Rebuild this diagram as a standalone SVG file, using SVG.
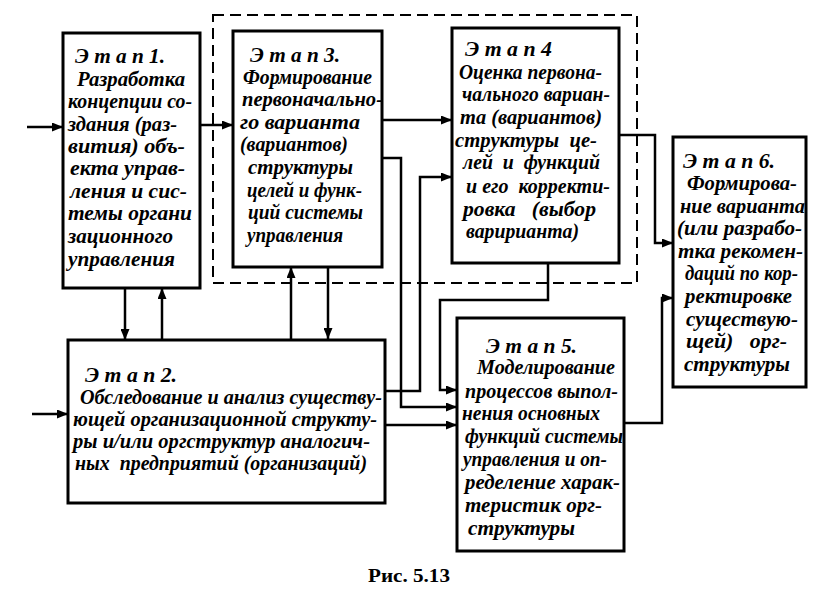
<svg xmlns="http://www.w3.org/2000/svg" width="840" height="595" viewBox="0 0 840 595">
<style>
.box{fill:#fff;stroke:#000;stroke-width:3}
.t{font-family:"Liberation Serif","Times New Roman",serif;font-size:20px;font-weight:bold;font-style:italic;fill:#000;white-space:pre}
.c{fill:none;stroke:#000;stroke-width:2.5;marker-end:url(#ah)}
.dash{fill:none;stroke:#000;stroke-width:2;stroke-dasharray:11 6}
.cap{font-family:"Liberation Serif","Times New Roman",serif;font-size:18px;font-weight:bold;fill:#000}
</style>
<defs>
<marker id="ah" markerUnits="userSpaceOnUse" markerWidth="11" markerHeight="9" refX="11" refY="4.5" orient="auto">
<path d="M0,0 L11,4.5 L0,9 z" fill="#000"/>
</marker>
</defs>
<rect width="840" height="595" fill="#fff"/>
<rect class="dash" x="213" y="15" width="424" height="268"/>
<g id="connectors">
<path class="c" d="M27,127 H63"/>
<path class="c" d="M200,125 H233"/>
<path class="c" d="M32,414 H68"/>
<path class="c" d="M125,288 V340"/>
<path class="c" d="M162,340 V288"/>
<path class="c" d="M291,339 V267"/>
<path class="c" d="M328,267 V339"/>
<path class="c" d="M382,120 H452"/>
<path class="c" d="M385,391 H420 V177 H452"/>
<path class="c" d="M382,158 H401 V407 H457"/>
<path class="c" d="M385,425 H457"/>
<path class="c" d="M548,263 V300 H440 V390 H457"/>
<path class="c" d="M619,135 H655 V243 H673"/>
<path class="c" d="M624,423 H662 V298 H673"/>
</g>
<g id="stage1">
<rect class="box" x="63" y="33" width="137" height="255"/>
<text class="t" x="75" y="63" textLength="90" lengthAdjust="spacingAndGlyphs">Э т а п 1.</text>
<text class="t" x="77" y="86" textLength="108" lengthAdjust="spacingAndGlyphs">Разработка</text>
<text class="t" x="68" y="108" textLength="124" lengthAdjust="spacingAndGlyphs">концепции со-</text>
<text class="t" x="68" y="131" textLength="109" lengthAdjust="spacingAndGlyphs">здания (раз-</text>
<text class="t" x="68" y="153" textLength="117" lengthAdjust="spacingAndGlyphs">вития) объ-</text>
<text class="t" x="70" y="175" textLength="115" lengthAdjust="spacingAndGlyphs">екта управ-</text>
<text class="t" x="70" y="198" textLength="117" lengthAdjust="spacingAndGlyphs">ления и сис-</text>
<text class="t" x="68" y="220" textLength="124" lengthAdjust="spacingAndGlyphs">темы органи</text>
<text class="t" x="68" y="243" textLength="105" lengthAdjust="spacingAndGlyphs">зационного</text>
<text class="t" x="68" y="266" textLength="107" lengthAdjust="spacingAndGlyphs">управления</text>
</g>
<g id="stage3">
<rect class="box" x="233" y="31" width="149" height="236"/>
<text class="t" x="250" y="62" textLength="90" lengthAdjust="spacingAndGlyphs">Э т а п 3.</text>
<text class="t" x="243" y="84" textLength="129" lengthAdjust="spacingAndGlyphs">Формирование</text>
<text class="t" x="242" y="106" textLength="141" lengthAdjust="spacingAndGlyphs">первоначально-</text>
<text class="t" x="240" y="129" textLength="120" lengthAdjust="spacingAndGlyphs">го варианта</text>
<text class="t" x="240" y="151" textLength="108" lengthAdjust="spacingAndGlyphs">(вариантов)</text>
<text class="t" x="248" y="174" textLength="105" lengthAdjust="spacingAndGlyphs">структуры</text>
<text class="t" x="247" y="197" textLength="115" lengthAdjust="spacingAndGlyphs">целей и функ-</text>
<text class="t" x="248" y="219" textLength="115" lengthAdjust="spacingAndGlyphs">ций системы</text>
<text class="t" x="247" y="242" textLength="96" lengthAdjust="spacingAndGlyphs">управления</text>
</g>
<g id="stage4">
<rect class="box" x="452" y="28" width="167" height="235"/>
<text class="t" x="465" y="56" textLength="87" lengthAdjust="spacingAndGlyphs">Э т а п 4</text>
<text class="t" x="459" y="79" textLength="143" lengthAdjust="spacingAndGlyphs">Оценка первона-</text>
<text class="t" x="462" y="101" textLength="148" lengthAdjust="spacingAndGlyphs">чального вариан-</text>
<text class="t" x="460" y="124" textLength="142" lengthAdjust="spacingAndGlyphs">та (вариантов)</text>
<text class="t" x="455" y="147" textLength="142" lengthAdjust="spacingAndGlyphs">структуры  це-</text>
<text class="t" x="463" y="169" textLength="137" lengthAdjust="spacingAndGlyphs">лей  и  функций</text>
<text class="t" x="466" y="193" textLength="144" lengthAdjust="spacingAndGlyphs">и его  корректи-</text>
<text class="t" x="463" y="216" textLength="133" lengthAdjust="spacingAndGlyphs">ровка   (выбор</text>
<text class="t" x="466" y="238" textLength="113" lengthAdjust="spacingAndGlyphs">варирианта)</text>
</g>
<g id="stage6">
<rect class="box" x="673" y="137" width="133" height="250"/>
<text class="t" x="683" y="168" textLength="92" lengthAdjust="spacingAndGlyphs">Э т а п 6.</text>
<text class="t" x="687" y="190" textLength="110" lengthAdjust="spacingAndGlyphs">Формирова-</text>
<text class="t" x="680" y="213" textLength="125" lengthAdjust="spacingAndGlyphs">ние варианта</text>
<text class="t" x="677" y="235" textLength="125" lengthAdjust="spacingAndGlyphs">(или разрабо-</text>
<text class="t" x="678" y="258" textLength="125" lengthAdjust="spacingAndGlyphs">тка рекомен-</text>
<text class="t" x="685" y="280" textLength="113" lengthAdjust="spacingAndGlyphs">даций по кор-</text>
<text class="t" x="685" y="303" textLength="107" lengthAdjust="spacingAndGlyphs">ректировке</text>
<text class="t" x="686" y="326" textLength="112" lengthAdjust="spacingAndGlyphs">существую-</text>
<text class="t" x="686" y="348" textLength="101" lengthAdjust="spacingAndGlyphs">щей)   орг-</text>
<text class="t" x="684" y="371" textLength="106" lengthAdjust="spacingAndGlyphs">структуры</text>
</g>
<g id="stage2">
<rect class="box" x="68" y="340" width="317" height="163"/>
<text class="t" x="85" y="382" textLength="92" lengthAdjust="spacingAndGlyphs">Э т а п 2.</text>
<text class="t" x="80" y="404" textLength="302" lengthAdjust="spacingAndGlyphs">Обследование и анализ существу-</text>
<text class="t" x="73" y="426" textLength="304" lengthAdjust="spacingAndGlyphs">ющей организационной структу-</text>
<text class="t" x="73" y="448" textLength="297" lengthAdjust="spacingAndGlyphs">ры и/или оргструктур аналогич-</text>
<text class="t" x="75" y="470" textLength="292" lengthAdjust="spacingAndGlyphs">ных  предприятий (организаций)</text>
</g>
<g id="stage5">
<rect class="box" x="457" y="318" width="167" height="233"/>
<text class="t" x="486" y="353" textLength="91" lengthAdjust="spacingAndGlyphs">Э т а п 5.</text>
<text class="t" x="477" y="374" textLength="138" lengthAdjust="spacingAndGlyphs">Моделирование</text>
<text class="t" x="465" y="398" textLength="153" lengthAdjust="spacingAndGlyphs">процессов выпол-</text>
<text class="t" x="462" y="420" textLength="138" lengthAdjust="spacingAndGlyphs">нения основных</text>
<text class="t" x="465" y="443" textLength="158" lengthAdjust="spacingAndGlyphs">функций системы</text>
<text class="t" x="463" y="466" textLength="144" lengthAdjust="spacingAndGlyphs">управления и оп-</text>
<text class="t" x="465" y="489" textLength="155" lengthAdjust="spacingAndGlyphs">ределение харак-</text>
<text class="t" x="465" y="512" textLength="137" lengthAdjust="spacingAndGlyphs">теристик орг-</text>
<text class="t" x="468" y="535" textLength="107" lengthAdjust="spacingAndGlyphs">структуры</text>
</g>
<text class="cap" x="368" y="582" textLength="82" lengthAdjust="spacingAndGlyphs">Рис. 5.13</text>
</svg>
